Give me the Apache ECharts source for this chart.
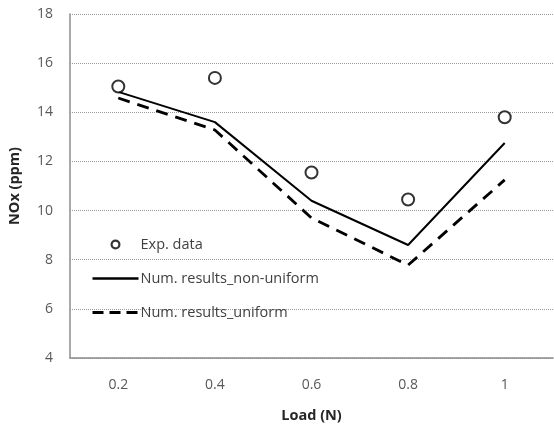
<!DOCTYPE html>
<html><head><meta charset="utf-8">
<script src="https://cdn.jsdelivr.net/npm/echarts@6/dist/echarts.min.js"></script>
<style>html,body{margin:0;padding:0;background:#fff}#c{width:554px;height:426px}</style>
</head><body><div id="c"></div>
<script>
const categories = ['0.2', '0.4', '0.6', '0.8', '1'];
const expData = [15.05, 15.4, 11.55, 10.45, 13.8];
const nonUniform = [14.83, 13.6, 10.4, 8.6, 12.75];
const uniform = [14.58, 13.28, 9.7, 7.78, 11.25];
const yTicks = {min: 4, max: 18, interval: 2};

const chart = echarts.init(document.getElementById('c'));
const font = 'Open Sans, Liberation Sans, sans-serif';
const ringIcon = 'path://M5,0A5,5 0 1,1 4.99,0Z M5,2.2A2.8,2.8 0 1,0 5.01,2.2Z';
chart.setOption({
  animation: false,
  backgroundColor: '#fff',
  grid: {left: 70, right: 1, top: 14, bottom: 68, outerBoundsMode: 'none', containLabel: false},
  legend: {
    orient: 'vertical', left: 86, top: 232, itemGap: 19, itemWidth: 46, itemHeight: 10,
    textStyle: {fontFamily: font, fontSize: 14.5, color: '#404040', padding: [0,0,0,-3]},
    data: [
      {name: 'Exp. data', icon: ringIcon, itemStyle: {color: '#000', borderWidth: 0}},
      {name: 'Num. results_non-uniform', itemStyle: {opacity: 0}, lineStyle: {width: 2.5}},
      {name: 'Num. results_uniform', itemStyle: {opacity: 0}, lineStyle: {width: 3, type: [11, 6]}}
    ]
  },
  xAxis: {
    type: 'category', data: categories, boundaryGap: true,
    name: 'Load (N)', nameLocation: 'middle', nameGap: 50,
    nameTextStyle: {fontFamily: font, fontSize: 14.5, fontWeight: 'bold', color: '#262626'},
    axisLine: {lineStyle: {color: '#8c8c8c', width: 1.5}},
    axisTick: {show: false},
    axisLabel: {fontFamily: font, fontSize: 14, color: '#595959', margin: 20},
    splitLine: {show: false}
  },
  yAxis: {
    type: 'value', min: yTicks.min, max: yTicks.max, interval: yTicks.interval,
    name: 'NOx (ppm)', nameLocation: 'middle', nameGap: 48,
    nameTextStyle: {fontFamily: font, fontSize: 14.5, fontWeight: 'bold', color: '#262626'},
    axisLine: {show: true, lineStyle: {color: '#8c8c8c', width: 1.5}},
    axisTick: {show: false},
    axisLabel: {fontFamily: font, fontSize: 14, color: '#595959', margin: 17},
    splitLine: {lineStyle: {color: '#9a9a9a', type: [1, 1], width: 1}}
  },
  series: [
    {name: 'Exp. data', type: 'scatter', data: expData, symbol: 'emptyCircle', symbolSize: 12,
     itemStyle: {color: '#000', borderWidth: 2.4}, z: 5},
    {name: 'Num. results_non-uniform', type: 'line', data: nonUniform, symbol: 'none',
     lineStyle: {color: '#000', width: 2}, itemStyle: {color: '#000'}},
    {name: 'Num. results_uniform', type: 'line', data: uniform, symbol: 'none',
     lineStyle: {color: '#000', width: 2.8, type: [12, 8]}, itemStyle: {color: '#000'}}
  ]
});
</script></body></html>
